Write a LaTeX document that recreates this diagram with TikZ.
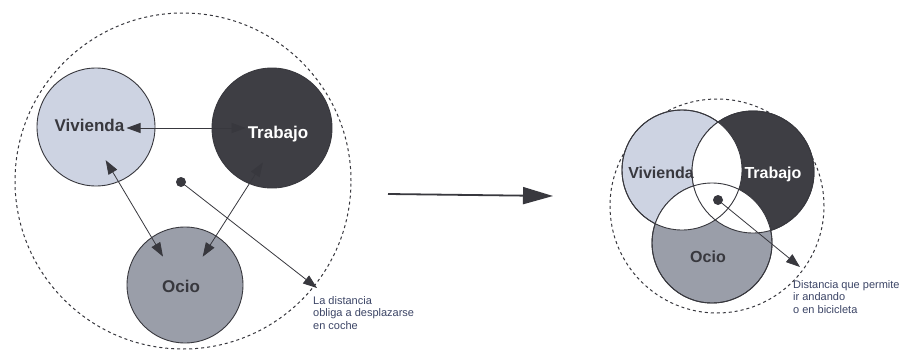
\documentclass[tikz,border=0pt]{standalone}
\usepackage{fontspec}
\setmainfont{Liberation Sans}
\usetikzlibrary{positioning,arrows.meta,calc}
\definecolor{paper}{HTML}{FFFFFF}
\definecolor{homeFill}{HTML}{CDD3E2}
\definecolor{workFill}{HTML}{3E3E44}
\definecolor{leisureFill}{HTML}{9A9EA9}
\definecolor{ink}{HTML}{38383E}
\definecolor{noteInk}{HTML}{3C4566}

\begin{document}
\begin{tikzpicture}[
  x=1pt, y=-1pt,
  place/.style={
    circle, draw=ink, line width=0.9pt,
    inner sep=0pt, minimum size=118pt
  },
  zone/.style={
    circle, draw=ink, line width=1pt,
    dash pattern=on 3pt off 3pt,
    inner sep=0pt
  },
  placeLabel/.style={
    anchor=base, inner sep=2pt,
    font=\fontsize{17}{20}\selectfont\bfseries,
    text=ink
  },
  nearLabel/.style={
    placeLabel,
    font=\fontsize{16}{19}\selectfont\bfseries
  },
  link/.style={
    {Triangle[length=14pt,width=10pt]}-{Triangle[length=14pt,width=10pt]},
    line width=0.8pt,
    draw=ink
  },
  reach/.style={
    -{Triangle[length=14pt,width=10pt]},
    line width=0.8pt,
    draw=ink
  },
  shiftArrow/.style={
    -{Triangle[length=30pt,width=17pt]},
    line width=1.8pt,
    draw=ink
  },
  centreDot/.style={
    circle, fill=ink, inner sep=0pt, minimum size=10pt
  },
  note/.style={
    anchor=north west, align=left, inner sep=0pt,
    font=\fontsize{11}{12.5}\selectfont,
    text=noteInk
  }
]

% Page size of the reference
\useasboundingbox[fill=paper] (0,0) rectangle (907,351);

% Far apart: three separate places
\node[zone, minimum size=336pt] (farZone) at (183,181) {};
\node[place, fill=homeFill] (farHome) at (96,127) {};
\node[place, fill=workFill, minimum size=120pt] (farWork) at (272,128) {};
\node[place, fill=leisureFill, minimum size=116pt] (farLeisure) at (185,285) {};

\node[placeLabel] (farHomeLabel) at (89.5,131) {Vivienda};
\node[placeLabel, text=white] (farWorkLabel) at (278,138) {Trabajo};
\node[placeLabel] (farLeisureLabel) at (181,292) {Ocio};

\draw[link] ([yshift=3pt]farHomeLabel.base east) -- ([yshift=3pt]farHomeLabel.base east -| farWorkLabel.west);
\draw[link] ($(farHome)!0.21!(farLeisure)+(-9,0)$) -- ($(farHome)!0.82!(farLeisure)+(-6,0)$);
\draw[link] ($(farWork)!0.22!(farLeisure)+(10,0)$) -- ($(farWork)!0.82!(farLeisure)+(2,0)$);

\node[centreDot] (farDot) at (181,182) {};
\coordinate (farTip) at (317,288);
\draw[reach] (farDot) -- (farTip);
\node[note] (farNote) at (313,296) {La distancia\\obliga a desplazarse\\en coche};

% From one layout to the other
\coordinate (shiftFrom) at (388,194);
\coordinate (shiftTo) at (553,196);
\draw[shiftArrow] (shiftFrom) -- (shiftTo);

% Close together: overlapping places
\node[zone, minimum size=214pt] (nearZone) at (717,206) {};
\node[place, fill=homeFill, minimum size=120pt] (nearHome) at (682,170) {};
\node[place, fill=workFill, minimum size=122pt] (nearWork) at (753,172) {};
\node[place, fill=leisureFill, minimum size=120pt] (nearLeisure) at (712,243) {};

% overlaps stay white
\begin{scope}
  \clip (nearHome.center) circle (60);
  \fill[paper] (nearWork.center) circle (61);
  \fill[paper] (nearLeisure.center) circle (60);
\end{scope}
\begin{scope}
  \clip (nearWork.center) circle (61);
  \fill[paper] (nearLeisure.center) circle (60);
\end{scope}
\draw[ink, line width=0.9pt] (nearHome.center) circle (60);
\draw[ink, line width=0.9pt] (nearWork.center) circle (61);
\draw[ink, line width=0.9pt] (nearLeisure.center) circle (60);

\node[nearLabel] (nearHomeLabel) at (661,178) {Vivienda};
\node[nearLabel, text=white] (nearWorkLabel) at (773,178) {Trabajo};
\node[nearLabel] (nearLeisureLabel) at (708,262) {Ocio};

\node[centreDot] (nearDot) at (718,200) {};
\coordinate (nearTip) at (800,267);
\draw[reach] (nearDot) -- (nearTip);
\node[note] (nearNote) at (793,280) {Distancia que permite\\ir andando\\o en bicicleta};

\end{tikzpicture}
\end{document}
